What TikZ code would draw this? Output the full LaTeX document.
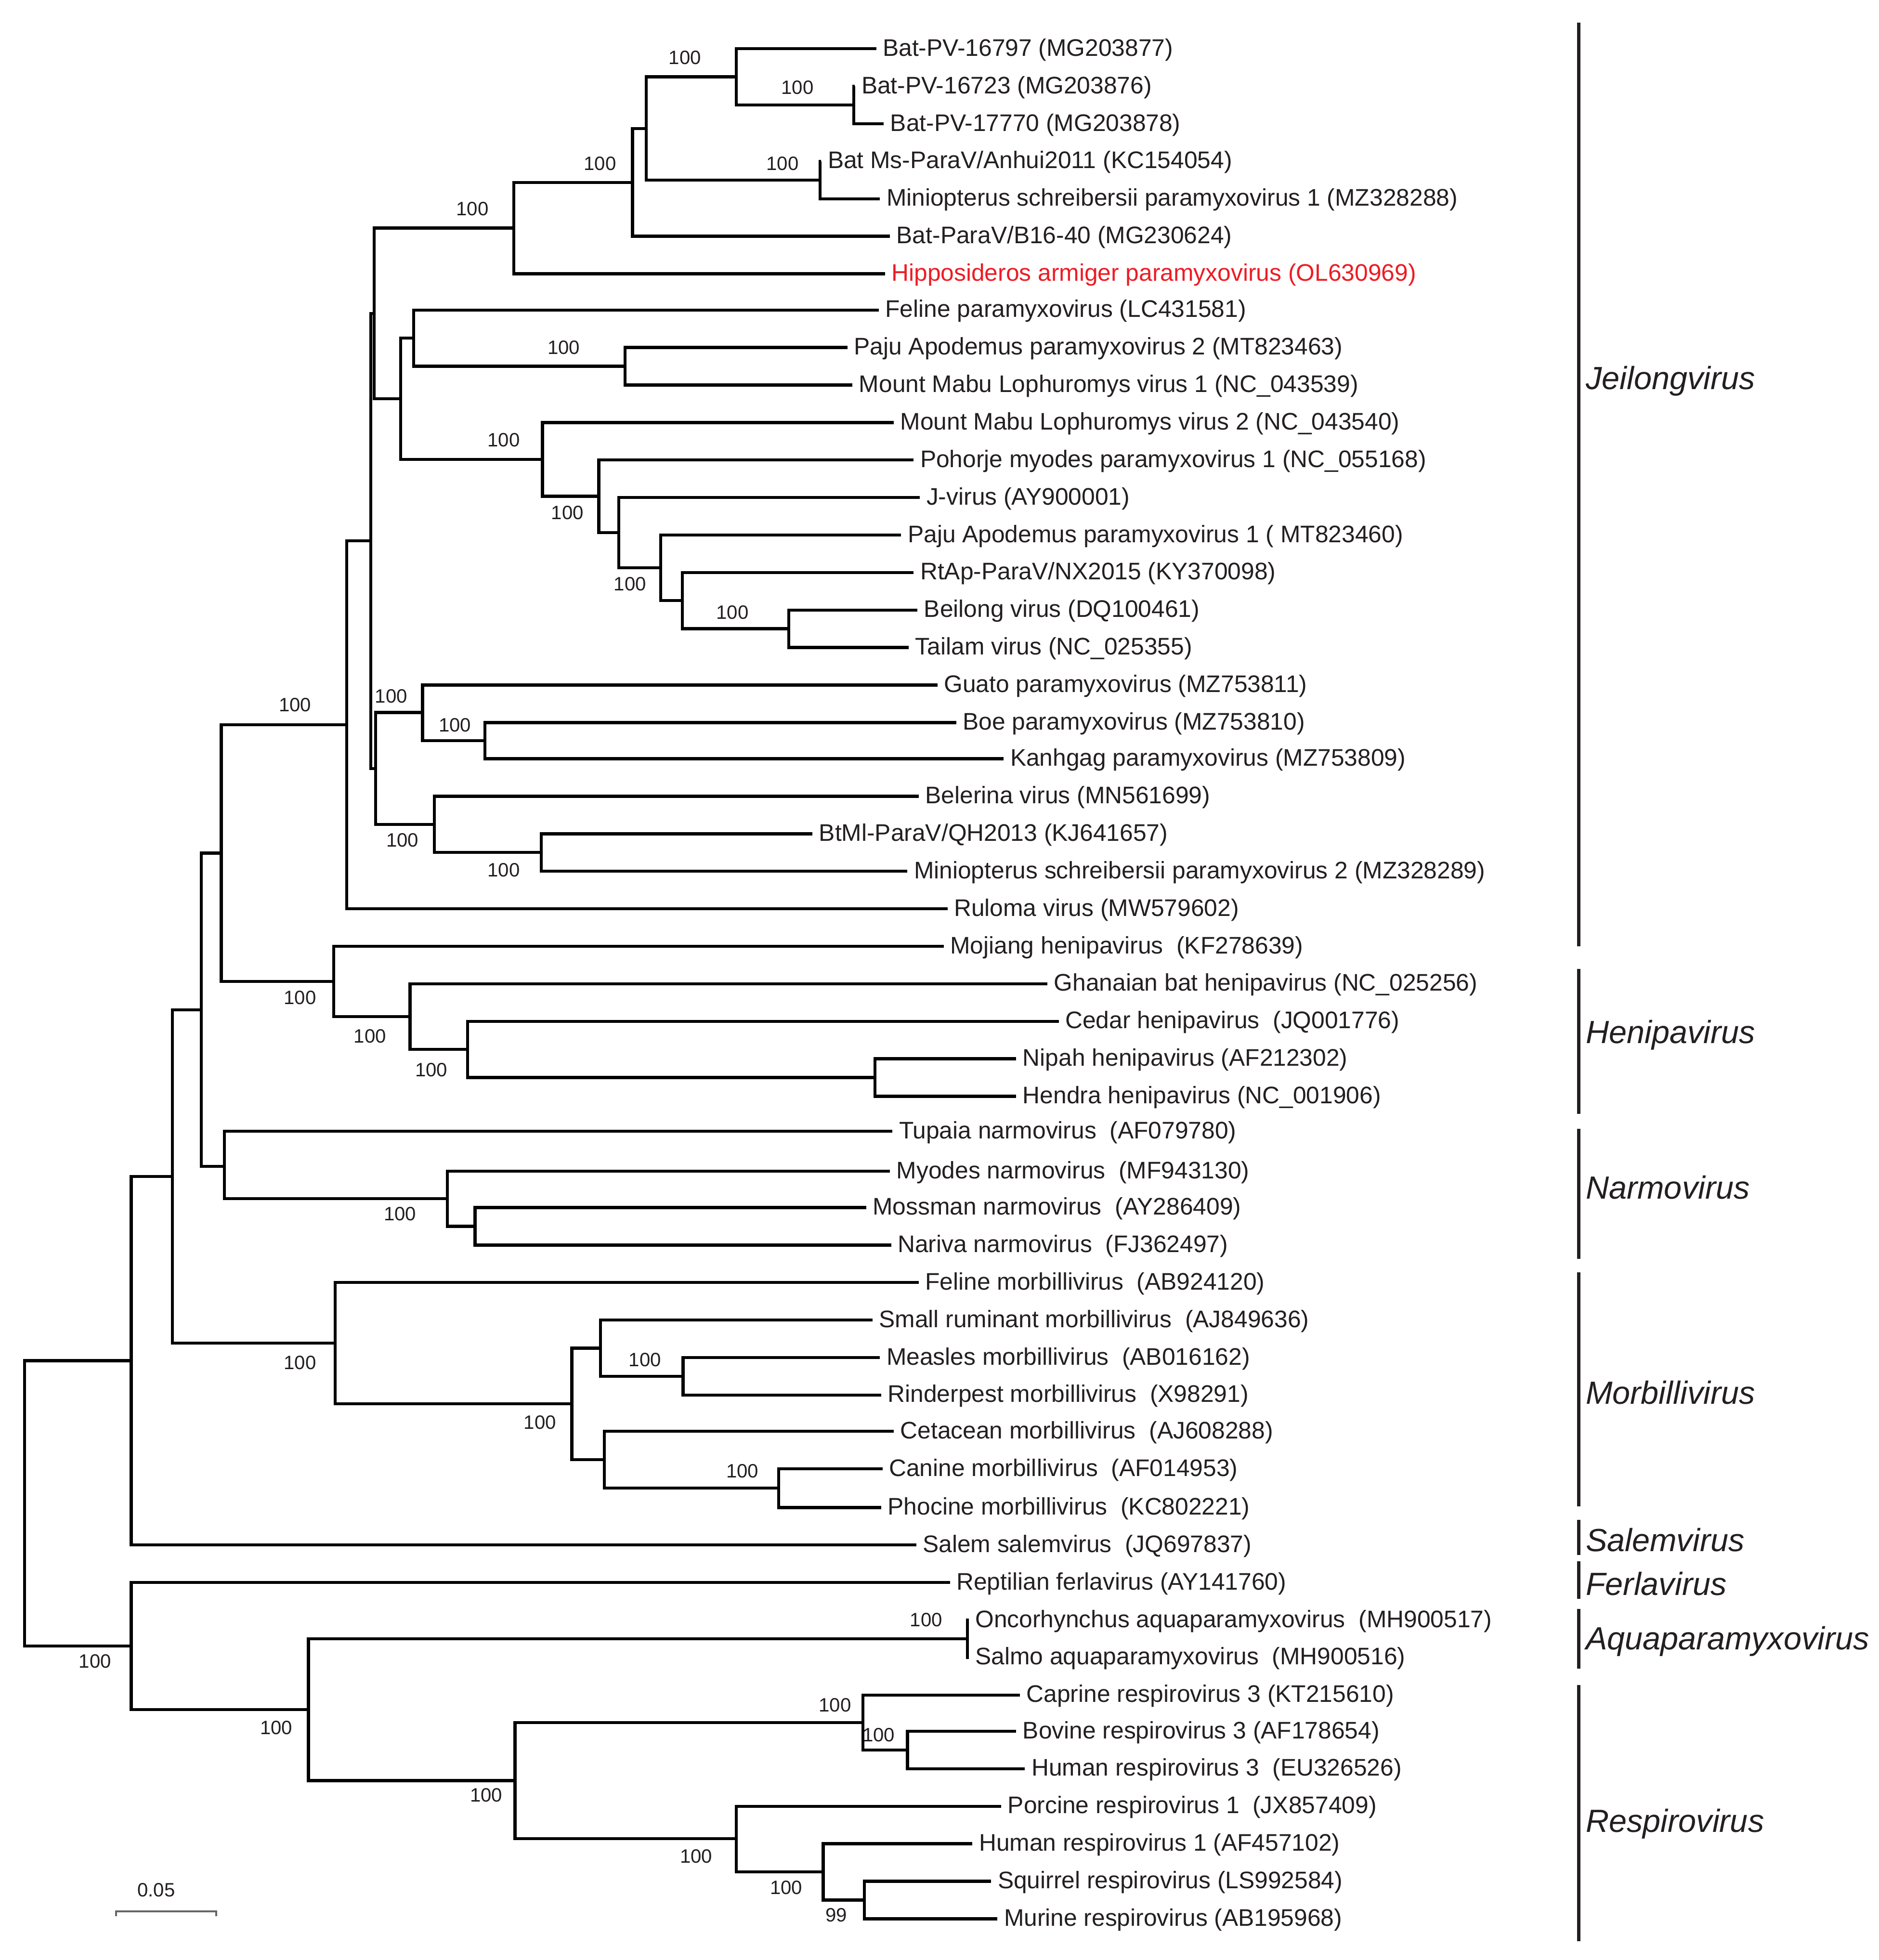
\documentclass[tikz,border=0pt]{standalone}
\usepackage{fontspec}
\setmainfont{Liberation Sans}
\definecolor{Tinta}{HTML}{231F20}
\definecolor{Rojo}{HTML}{ED1C24}
\colorlet{Escala}{black!60}

\begin{document}
\begin{tikzpicture}[x=0.01cm, y=-0.01cm,
  rama/.style={line width=0.7pt},
  hoja/.style={anchor=west, inner xsep=1.3pt, inner ysep=0pt, text height=0.75em,
    text depth=0.42em, text=Tinta, font=\fontsize{5.45}{6}\selectfont},
  soporte/.style={inner sep=0pt, text=Tinta, font=\fontsize{4.4}{5}\selectfont},
  clado/.style={anchor=west, inner sep=0pt, text=Tinta, font=\fontsize{7.3}{8}\selectfont\itshape},
  barra/.style={line width=0.7pt, draw=Tinta}]

\useasboundingbox (0,0) rectangle (1503,1568);

% Hojas
\node[hoja] (bpvA) at (701,39) {Bat-PV-16797 (MG203877)};
\node[hoja] (bpvB) at (684,69) {Bat-PV-16723 (MG203876)};
\node[hoja] (bpvC) at (707,99) {Bat-PV-17770 (MG203878)};
\node[hoja] (msAnhui) at (657,129) {Bat Ms-ParaV/Anhui2011 (KC154054)};
\node[hoja] (mspv1) at (704,159) {Miniopterus schreibersii paramyxovirus 1 (MZ328288)};
\node[hoja] (b1640) at (712,189) {Bat-ParaV/B16-40 (MG230624)};
\node[hoja, text=Rojo] (hapv) at (708,219) {Hipposideros armiger paramyxovirus (OL630969)};
\node[hoja] (felpv) at (703,248) {Feline paramyxovirus (LC431581)};
\node[hoja] (pajuB) at (678,278) {Paju Apodemus paramyxovirus 2 (MT823463)};
\node[hoja] (mml1) at (682,308) {Mount Mabu Lophuromys virus 1 (NC\_043539)};
\node[hoja] (mml2) at (715,338) {Mount Mabu Lophuromys virus 2 (NC\_043540)};
\node[hoja] (pohorje) at (731,368) {Pohorje myodes paramyxovirus 1 (NC\_055168)};
\node[hoja] (jv) at (736,398) {J-virus (AY900001)};
\node[hoja] (pajuA) at (721,428) {Paju Apodemus paramyxovirus 1 ( MT823460)};
\node[hoja] (rtap) at (731,458) {RtAp-ParaV/NX2015 (KY370098)};
\node[hoja] (beilong) at (734,488) {Beilong virus (DQ100461)};
\node[hoja] (tailam) at (727,518) {Tailam virus (NC\_025355)};
\node[hoja] (guato) at (750,548) {Guato paramyxovirus (MZ753811)};
\node[hoja] (boe) at (765,578) {Boe paramyxovirus (MZ753810)};
\node[hoja] (kanhgag) at (803,607) {Kanhgag paramyxovirus (MZ753809)};
\node[hoja] (belerina) at (735,637) {Belerina virus (MN561699)};
\node[hoja] (btml) at (650,667) {BtMl-ParaV/QH2013 (KJ641657)};
\node[hoja] (mspv2) at (726,697) {Miniopterus schreibersii paramyxovirus 2 (MZ328289)};
\node[hoja] (ruloma) at (758,727) {Ruloma virus (MW579602)};
\node[hoja] (mojiang) at (755,757) {Mojiang henipavirus\ \ (KF278639)};
\node[hoja] (ghana) at (838,787) {Ghanaian bat henipavirus (NC\_025256)};
\node[hoja] (cedar) at (847,817) {Cedar henipavirus\ \ (JQ001776)};
\node[hoja] (nipah) at (813,847) {Nipah henipavirus (AF212302)};
\node[hoja] (hendra) at (813,877) {Hendra henipavirus (NC\_001906)};
\node[hoja] (tupaia) at (714,905) {Tupaia narmovirus\ \ (AF079780)};
\node[hoja] (myodes) at (712,937) {Myodes narmovirus\ \ (MF943130)};
\node[hoja] (mossman) at (693,966) {Mossman narmovirus\ \ (AY286409)};
\node[hoja] (nariva) at (713,996) {Nariva narmovirus\ \ (FJ362497)};
\node[hoja] (felmv) at (735,1026) {Feline morbillivirus\ \ (AB924120)};
\node[hoja] (srmv) at (698,1056) {Small ruminant morbillivirus\ \ (AJ849636)};
\node[hoja] (measles) at (704,1086) {Measles morbillivirus\ \ (AB016162)};
\node[hoja] (rinder) at (705,1116) {Rinderpest morbillivirus\ \ (X98291)};
\node[hoja] (cetacean) at (715,1145) {Cetacean morbillivirus\ \ (AJ608288)};
\node[hoja] (canine) at (706,1175) {Canine morbillivirus\ \ (AF014953)};
\node[hoja] (phocine) at (705,1206) {Phocine morbillivirus\ \ (KC802221)};
\node[hoja] (salem) at (733,1236) {Salem salemvirus\ \ (JQ697837)};
\node[hoja] (ferla) at (760,1266) {Reptilian ferlavirus (AY141760)};
\node[hoja] (onco) at (775,1296) {Oncorhynchus aquaparamyxovirus\ \ (MH900517)};
\node[hoja] (salmo) at (775,1326) {Salmo aquaparamyxovirus\ \ (MH900516)};
\node[hoja] (caprine) at (816,1356) {Caprine respirovirus 3 (KT215610)};
\node[hoja] (bovine) at (813,1385) {Bovine respirovirus 3 (AF178654)};
\node[hoja] (hrv3) at (820,1415) {Human respirovirus 3\ \ (EU326526)};
\node[hoja] (porcine) at (801,1445) {Porcine respirovirus 1\ \ (JX857409)};
\node[hoja] (hrv1) at (778,1475) {Human respirovirus 1 (AF457102)};
\node[hoja] (squirrel) at (793,1505) {Squirrel respirovirus (LS992584)};
\node[hoja] (murine) at (798,1535) {Murine respirovirus (AB195968)};

% Nodos internos
\coordinate (bpvBC) at (683,84);
\coordinate (bpv) at (589,61.5);
\coordinate (ms1) at (656,144);
\coordinate (batA) at (517,102.75);
\coordinate (batB) at (506,145.9);
\coordinate (batC) at (411,182.4);
\coordinate (paju2N) at (500,293);
\coordinate (felN) at (331,270.5);
\coordinate (beiN) at (631,503);
\coordinate (rtapN) at (546,480.5);
\coordinate (paju1N) at (528.5,454.25);
\coordinate (jvN) at (495,426.1);
\coordinate (pohN) at (479,397);
\coordinate (mml2N) at (434,367.5);
\coordinate (rodN) at (320.5,319);
\coordinate (jeiB) at (299.3,250.7);
\coordinate (boeN) at (388,592.5);
\coordinate (guatoN) at (338,570);
\coordinate (btmlN) at (433,682);
\coordinate (belN) at (347.5,659.5);
\coordinate (jeiC) at (300.5,614.75);
\coordinate (jeiA) at (296.7,432.7);
\coordinate (jei) at (277.4,579.9);
\coordinate (nipN) at (700,862);
\coordinate (cedN) at (374,839.5);
\coordinate (ghaN) at (328,813.25);
\coordinate (heni) at (267,785.1);
\coordinate (jeiheni) at (177,682.5);
\coordinate (mosN) at (380,981);
\coordinate (myoN) at (358,959);
\coordinate (narmo) at (179.5,933);
\coordinate (jhn) at (161,807.75);
\coordinate (measN) at (546.5,1101);
\coordinate (srmN) at (480.5,1078.5);
\coordinate (canN) at (623,1190.5);
\coordinate (cetN) at (483.5,1167.75);
\coordinate (morbA) at (457.5,1123.1);
\coordinate (morbi) at (268.2,1074.5);
\coordinate (jhnm) at (138,941.1);
\coordinate (salemN) at (105,1088.6);
\coordinate (aqua) at (774,1311);
\coordinate (bovN) at (726,1400);
\coordinate (capN) at (690.3,1378);
\coordinate (squN) at (691.5,1520);
\coordinate (hrv1N) at (658.6,1497.5);
\coordinate (porN) at (589,1471);
\coordinate (respi) at (412,1424.5);
\coordinate (aquaresp) at (246.7,1367.75);
\coordinate (ferlaN) at (105,1316.9);
\coordinate (raiz) at (19.7,1202.75);

% Ramas del arbol
\draw[rama] (bpvBC) |- (bpvB.west);
\draw[rama] (bpvBC) |- (bpvC.west);
\draw[rama] (bpv) |- (bpvA.west);
\draw[rama] (bpv) |- (bpvBC);
\draw[rama] (ms1) |- (msAnhui.west);
\draw[rama] (ms1) |- (mspv1.west);
\draw[rama] (batA) |- (bpv);
\draw[rama] (batA) |- (ms1);
\draw[rama] (batB) |- (batA);
\draw[rama] (batB) |- (b1640.west);
\draw[rama] (batC) |- (batB);
\draw[rama] (batC) |- (hapv.west);
\draw[rama] (paju2N) |- (pajuB.west);
\draw[rama] (paju2N) |- (mml1.west);
\draw[rama] (felN) |- (felpv.west);
\draw[rama] (felN) |- (paju2N);
\draw[rama] (beiN) |- (beilong.west);
\draw[rama] (beiN) |- (tailam.west);
\draw[rama] (rtapN) |- (rtap.west);
\draw[rama] (rtapN) |- (beiN);
\draw[rama] (paju1N) |- (pajuA.west);
\draw[rama] (paju1N) |- (rtapN);
\draw[rama] (jvN) |- (jv.west);
\draw[rama] (jvN) |- (paju1N);
\draw[rama] (pohN) |- (pohorje.west);
\draw[rama] (pohN) |- (jvN);
\draw[rama] (mml2N) |- (mml2.west);
\draw[rama] (mml2N) |- (pohN);
\draw[rama] (rodN) |- (felN);
\draw[rama] (rodN) |- (mml2N);
\draw[rama] (jeiB) |- (batC);
\draw[rama] (jeiB) |- (rodN);
\draw[rama] (boeN) |- (boe.west);
\draw[rama] (boeN) |- (kanhgag.west);
\draw[rama] (guatoN) |- (guato.west);
\draw[rama] (guatoN) |- (boeN);
\draw[rama] (btmlN) |- (btml.west);
\draw[rama] (btmlN) |- (mspv2.west);
\draw[rama] (belN) |- (belerina.west);
\draw[rama] (belN) |- (btmlN);
\draw[rama] (jeiC) |- (guatoN);
\draw[rama] (jeiC) |- (belN);
\draw[rama] (jeiA) |- (jeiB);
\draw[rama] (jeiA) |- (jeiC);
\draw[rama] (jei) |- (jeiA);
\draw[rama] (jei) |- (ruloma.west);
\draw[rama] (nipN) |- (nipah.west);
\draw[rama] (nipN) |- (hendra.west);
\draw[rama] (cedN) |- (cedar.west);
\draw[rama] (cedN) |- (nipN);
\draw[rama] (ghaN) |- (ghana.west);
\draw[rama] (ghaN) |- (cedN);
\draw[rama] (heni) |- (mojiang.west);
\draw[rama] (heni) |- (ghaN);
\draw[rama] (jeiheni) |- (jei);
\draw[rama] (jeiheni) |- (heni);
\draw[rama] (mosN) |- (mossman.west);
\draw[rama] (mosN) |- (nariva.west);
\draw[rama] (myoN) |- (myodes.west);
\draw[rama] (myoN) |- (mosN);
\draw[rama] (narmo) |- (tupaia.west);
\draw[rama] (narmo) |- (myoN);
\draw[rama] (jhn) |- (jeiheni);
\draw[rama] (jhn) |- (narmo);
\draw[rama] (measN) |- (measles.west);
\draw[rama] (measN) |- (rinder.west);
\draw[rama] (srmN) |- (srmv.west);
\draw[rama] (srmN) |- (measN);
\draw[rama] (canN) |- (canine.west);
\draw[rama] (canN) |- (phocine.west);
\draw[rama] (cetN) |- (cetacean.west);
\draw[rama] (cetN) |- (canN);
\draw[rama] (morbA) |- (srmN);
\draw[rama] (morbA) |- (cetN);
\draw[rama] (morbi) |- (felmv.west);
\draw[rama] (morbi) |- (morbA);
\draw[rama] (jhnm) |- (jhn);
\draw[rama] (jhnm) |- (morbi);
\draw[rama] (salemN) |- (jhnm);
\draw[rama] (salemN) |- (salem.west);
\draw[rama] (aqua) |- (onco.west);
\draw[rama] (aqua) |- (salmo.west);
\draw[rama] (bovN) |- (bovine.west);
\draw[rama] (bovN) |- (hrv3.west);
\draw[rama] (capN) |- (caprine.west);
\draw[rama] (capN) |- (bovN);
\draw[rama] (squN) |- (squirrel.west);
\draw[rama] (squN) |- (murine.west);
\draw[rama] (hrv1N) |- (hrv1.west);
\draw[rama] (hrv1N) |- (squN);
\draw[rama] (porN) |- (porcine.west);
\draw[rama] (porN) |- (hrv1N);
\draw[rama] (respi) |- (capN);
\draw[rama] (respi) |- (porN);
\draw[rama] (aquaresp) |- (aqua);
\draw[rama] (aquaresp) |- (respi);
\draw[rama] (ferlaN) |- (ferla.west);
\draw[rama] (ferlaN) |- (aquaresp);
\draw[rama] (raiz) |- (salemN);
\draw[rama] (raiz) |- (ferlaN);

% Valores de bootstrap
\node[soporte] (s01) at (548,46) {100};
\node[soporte] (s02) at (638,70) {100};
\node[soporte] (s03) at (626,131) {100};
\node[soporte] (s04) at (480,131) {100};
\node[soporte] (s05) at (378,167) {100};
\node[soporte] (s06) at (451,278) {100};
\node[soporte] (s07) at (403,352) {100};
\node[soporte] (s08) at (454,410) {100};
\node[soporte] (s09) at (504,467) {100};
\node[soporte] (s10) at (586,490) {100};
\node[soporte] (s11) at (236,564) {100};
\node[soporte] (s12) at (313,557) {100};
\node[soporte] (s13) at (364,580) {100};
\node[soporte] (s14) at (322,672) {100};
\node[soporte] (s15) at (403,696) {100};
\node[soporte] (s16) at (240,798) {100};
\node[soporte] (s17) at (296,829) {100};
\node[soporte] (s18) at (345,856) {100};
\node[soporte] (s19) at (320,971) {100};
\node[soporte] (s20) at (516,1088) {100};
\node[soporte] (s21) at (240,1090) {100};
\node[soporte] (s22) at (432,1138) {100};
\node[soporte] (s23) at (594,1177) {100};
\node[soporte] (s24) at (741,1296) {100};
\node[soporte] (s25) at (76,1329) {100};
\node[soporte] (s26) at (668,1364) {100};
\node[soporte] (s27) at (703,1388) {100};
\node[soporte] (s28) at (221,1382) {100};
\node[soporte] (s29) at (389,1436) {100};
\node[soporte] (s30) at (557,1485) {100};
\node[soporte] (s31) at (629,1510) {100};
\node[soporte] (s32) at (669,1532) {99};

% Generos
\draw[barra] (1263,18) -- (1263,757);
\draw[barra] (1263,775) -- (1263,891);
\draw[barra] (1263,903) -- (1263,1007);
\draw[barra] (1263,1018) -- (1263,1205);
\draw[barra] (1263,1216) -- (1263,1244);
\draw[barra] (1263,1249) -- (1263,1279);
\draw[barra] (1263,1287) -- (1263,1335);
\draw[barra] (1263,1348) -- (1263,1553);
\node[clado] (jeilong) at (1268,305) {Jeilongvirus};
\node[clado] (henipa) at (1268,828) {Henipavirus};
\node[clado] (narmov) at (1268,950) {Narmovirus};
\node[clado] (morbil) at (1268,1114) {Morbillivirus};
\node[clado] (salemv) at (1268,1232) {Salemvirus};
\node[clado] (ferlav) at (1268,1267) {Ferlavirus};
\node[clado] (aquapa) at (1268,1313) {Aquaparamyxovirus};
\node[clado] (respir) at (1268,1459) {Respirovirus};

% Escala
\draw[line width=0.45pt, draw=Escala] (93,1533) -- (93,1529) -- (173,1529) -- (173,1533);
\node[soporte] (escala) at (125,1512) {0.05};

\end{tikzpicture}
\end{document}
